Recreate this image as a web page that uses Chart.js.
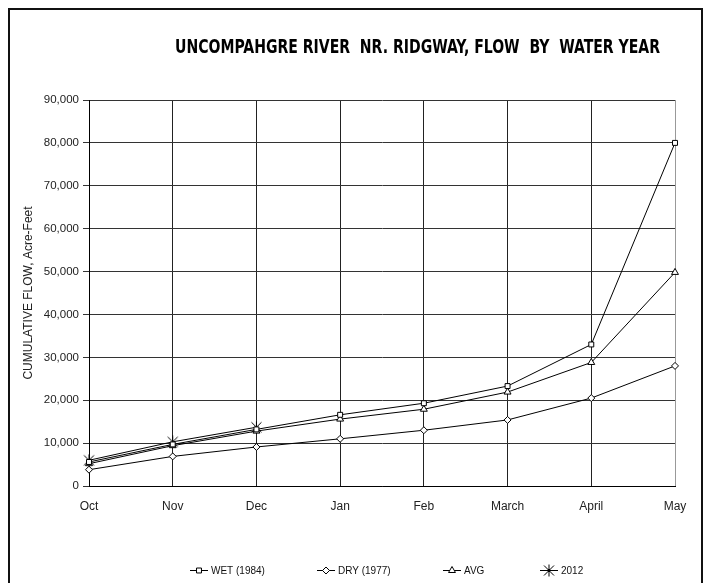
<!DOCTYPE html>
<html>
<head>
<meta charset="utf-8">
<style>
  html, body { margin: 0; padding: 0; background: #fff; }
  #wrap { width: 710px; height: 583px; }
</style>
<script src="https://cdn.jsdelivr.net/npm/chart.js"></script>
</head>
<body>
<div id="wrap"><canvas id="grafico" width="710" height="583"></canvas></div>
<script>
// Meses do ano hidrológico e valores acumulados (acre-feet)
const meses = ['Oct', 'Nov', 'Dec', 'Jan', 'Feb', 'March', 'April', 'May'];
const wet1984 = [5600, 9700, 13200, 16600, 19300, 23300, 33000, 80000];
const dry1977 = [3800, 6900, 9100, 11000, 13000, 15400, 20500, 28000];
const media = [5200, 9400, 12800, 15600, 17900, 21900, 28800, 49800];
const ano2012 = [6000, 10300, 13700, null, null, null, null, null];

const titulo = 'UNCOMPAHGRE RIVER  NR. RIDGWAY, FLOW  BY  WATER YEAR';

// marcador tipo asterisco (X com traço vertical), como no Excel
function criarAsterisco() {
  const c = document.createElement('canvas');
  c.width = 13;
  c.height = 13;
  const g = c.getContext('2d');
  g.strokeStyle = '#000';
  g.lineWidth = 1;
  g.beginPath();
  g.moveTo(1.5, 1.5); g.lineTo(11.5, 11.5);
  g.moveTo(11.5, 1.5); g.lineTo(1.5, 11.5);
  g.moveTo(6.5, 0.5); g.lineTo(6.5, 12.5);
  g.stroke();
  return c;
}
const asterisco = criarAsterisco();

function serie(label, data, estilo, raio) {
  return {
    label,
    data,
    borderColor: '#000',
    borderWidth: 1,
    backgroundColor: '#fff',
    pointStyle: estilo,
    pointRadius: raio,
    pointBorderColor: '#000',
    pointBackgroundColor: '#fff',
    pointBorderWidth: 1,
    tension: 0,
    spanGaps: false
  };
}

// Moldura, título e legenda desenhados à mão
const extras = {
  id: 'extras',
  afterDraw(chart) {
    const ctx = chart.ctx;
    ctx.save();
    ctx.strokeStyle = '#111';
    ctx.lineWidth = 2;
    ctx.strokeRect(9, 9, 693, 600);

    // título
    ctx.fillStyle = '#000';
    ctx.font = 'bold 20px "Liberation Sans Narrow", "DejaVu Sans Condensed", sans-serif';
    ctx.textBaseline = 'middle';
    const w = ctx.measureText(titulo).width;
    ctx.translate(175, 48);
    ctx.scale(485 / w, 1);
    ctx.fillText(titulo, 0, 0);
    ctx.restore();

    // legenda
    const xs = [190, 317, 443, 540];
    const y = 570;
    ctx.save();
    ctx.font = '10px "Liberation Sans", Arial, sans-serif';
    ctx.textBaseline = 'middle';
    chart.data.datasets.forEach((ds, i) => {
      const x0 = xs[i];
      ctx.strokeStyle = '#000';
      ctx.lineWidth = 1;
      ctx.beginPath();
      ctx.moveTo(x0, y + 0.5);
      ctx.lineTo(x0 + 18, y + 0.5);
      ctx.stroke();
      ctx.fillStyle = '#fff';
      Chart.helpers.drawPoint(ctx, {
        pointStyle: ds.pointStyle,
        radius: ds.pointRadius,
        rotation: 0,
        borderWidth: 1
      }, x0 + 9, y + 0.5);
      ctx.fillStyle = '#111';
      ctx.fillText(ds.label, x0 + 21, y + 1);
    });
    ctx.restore();
  }
};

new Chart(document.getElementById('grafico'), {
  type: 'line',
  data: {
    labels: meses,
    datasets: [
      serie('WET (1984)', wet1984, 'rect', 3.5),
      serie('DRY (1977)', dry1977, 'rectRot', 3.5),
      serie('AVG', media, 'triangle', 4),
      serie('2012', ano2012, asterisco, 6)
    ]
  },
  options: {
    responsive: false,
    animation: false,
    layout: { padding: { top: 100, right: 35, bottom: 67, left: 0 } },
    plugins: {
      legend: { display: false },
      title: { display: false },
      tooltip: { enabled: false }
    },
    scales: {
      x: {
        offset: false,
        grid: {
          drawTicks: false,
          color: ctx => ctx.index === meses.length - 1 ? '#999' : '#222',
          lineWidth: 1
        },
        border: { color: '#000', width: 1 },
        ticks: {
          color: '#222',
          padding: 13,
          font: { family: '"Liberation Sans", Arial, sans-serif', size: 12 },
          maxRotation: 0
        },
        afterFit(scale) { scale.height = 30; }
      },
      y: {
        min: 0,
        max: 90000,
        ticks: {
          stepSize: 10000,
          color: '#222',
          padding: 4,
          font: { family: '"Liberation Sans", Arial, sans-serif', size: 11.5 },
          callback: v => v.toLocaleString('en-US')
        },
        grid: { color: '#333', tickLength: 6, lineWidth: 1 },
        border: { color: '#000', width: 1 },
        title: {
          display: true,
          text: 'CUMULATIVE FLOW, Acre-Feet',
          color: '#222',
          font: { family: '"Liberation Sans", Arial, sans-serif', size: 12 },
          padding: { top: 21, bottom: 0 }
        },
        afterFit(scale) { scale.width = 89; }
      }
    }
  },
  plugins: [extras]
});
</script>
</body>
</html>
